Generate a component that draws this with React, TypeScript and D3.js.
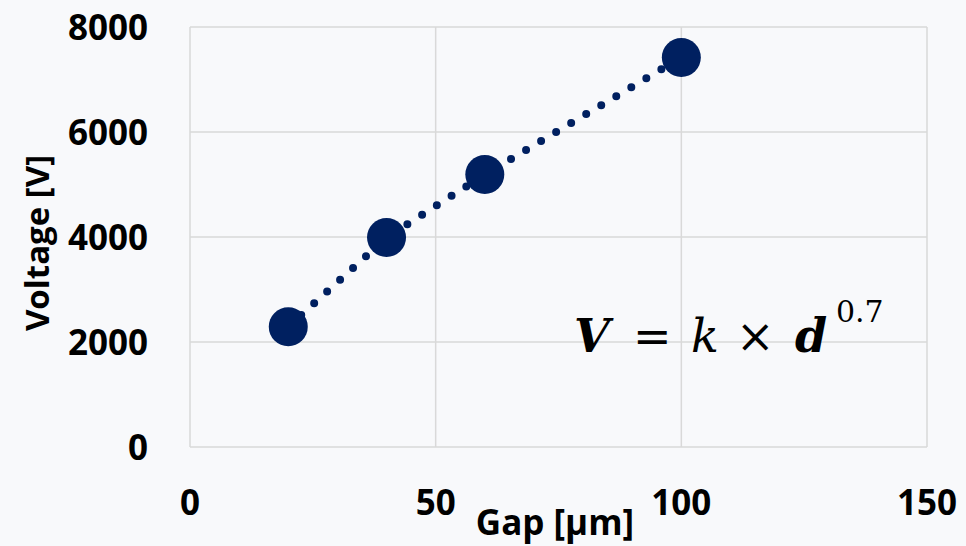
import React, { useEffect, useRef } from 'react';
import * as d3 from 'd3';

const gapValues = [20, 40, 60, 100];
const voltageValues = [2290, 3990, 5190, 7420];
const xTicks = [0, 50, 100, 150];
const yTicks = [0, 2000, 4000, 6000, 8000];

const WIDTH = 966;
const HEIGHT = 546;
const NAVY = '#002060';
const GRID = '#d9d9d9';
const FONT = "'Open Sans', 'Liberation Sans', sans-serif";

export default function App() {
  const svgRef = useRef<SVGSVGElement>(null);

  useEffect(() => {
    if (!svgRef.current) return;
    const svg = d3.select(svgRef.current);
    svg.selectAll('*').remove();

    const margin = { top: 27, right: 39, bottom: 99, left: 190 };
    const innerWidth = WIDTH - margin.left - margin.right;
    const innerHeight = HEIGHT - margin.top - margin.bottom;

    svg.append('rect')
      .attr('width', WIDTH)
      .attr('height', HEIGHT)
      .attr('fill', '#f8f9fb');

    const xScale = d3.scaleLinear().domain([0, 150]).range([0, innerWidth]);
    const yScale = d3.scaleLinear().domain([0, 8000]).range([innerHeight, 0]);

    const g = svg.append('g')
      .attr('transform', `translate(${margin.left},${margin.top})`);

    // gridlines
    g.selectAll('line.hgrid')
      .data(yTicks)
      .enter()
      .append('line')
      .attr('x1', 0)
      .attr('x2', innerWidth)
      .attr('y1', d => yScale(d))
      .attr('y2', d => yScale(d))
      .attr('stroke', GRID)
      .attr('stroke-width', 1.5);

    g.selectAll('line.vgrid')
      .data(xTicks)
      .enter()
      .append('line')
      .attr('x1', d => xScale(d))
      .attr('x2', d => xScale(d))
      .attr('y1', 0)
      .attr('y2', innerHeight)
      .attr('stroke', GRID)
      .attr('stroke-width', 1.5);

    // tick labels
    g.selectAll('text.ytick')
      .data(yTicks)
      .enter()
      .append('text')
      .attr('x', -42)
      .attr('y', d => yScale(d))
      .attr('dy', '0.36em')
      .attr('text-anchor', 'end')
      .attr('font-family', FONT)
      .attr('font-weight', 'bold')
      .style('font-size', '35px')
      .attr('fill', '#000')
      .text(d => String(d));

    g.selectAll('text.xtick')
      .data(xTicks)
      .enter()
      .append('text')
      .attr('x', d => xScale(d))
      .attr('y', innerHeight + 68)
      .attr('text-anchor', 'middle')
      .attr('font-family', FONT)
      .attr('font-weight', 'bold')
      .style('font-size', '35px')
      .attr('fill', '#000')
      .text(d => String(d));

    // axis titles
    svg.append('text')
      .attr('x', 555)
      .attr('y', 535)
      .attr('text-anchor', 'middle')
      .attr('font-family', FONT)
      .attr('font-weight', 'bold')
      .style('font-size', '35px')
      .attr('fill', '#000')
      .text('Gap [μm]');

    svg.append('text')
      .attr('transform', 'translate(49,243) rotate(-90)')
      .attr('text-anchor', 'middle')
      .attr('font-family', FONT)
      .attr('font-weight', 'bold')
      .style('font-size', '33px')
      .attr('fill', '#000')
      .text('Voltage [V]');

    // dotted series line
    const points = gapValues.map((x, i) => [x, voltageValues[i]] as [number, number]);
    const line = d3.line<[number, number]>()
      .x(d => xScale(d[0]))
      .y(d => yScale(d[1]));

    g.append('path')
      .attr('d', line(points))
      .attr('fill', 'none')
      .attr('stroke', NAVY)
      .attr('stroke-width', 8)
      .attr('stroke-linecap', 'round')
      .attr('stroke-dasharray', '0,17.5');

    g.selectAll('circle')
      .data(points)
      .enter()
      .append('circle')
      .attr('cx', d => xScale(d[0]))
      .attr('cy', d => yScale(d[1]))
      .attr('r', 19.5)
      .attr('fill', NAVY);

    // equation
    const eq = svg.append('text')
      .attr('y', 352)
      .attr('font-family', "'DejaVu Serif', 'Liberation Serif', serif")
      .style('font-size', '46px')
      .attr('fill', '#000');

    eq.append('tspan').attr('x', 574).attr('font-weight', 'bold').attr('font-style', 'italic').text('V');
    eq.append('tspan').attr('x', 633).text('=');
    eq.append('tspan').attr('x', 691).attr('font-style', 'italic').text('k');
    eq.append('tspan').attr('x', 736).text('×');
    eq.append('tspan').attr('x', 795).attr('font-weight', 'bold').attr('font-style', 'italic').text('d');
    eq.append('tspan').attr('x', 836).attr('y', 322).style('font-size', '30px').text('0.7');
  }, []);

  return (
    <svg
      ref={svgRef}
      width={WIDTH}
      height={HEIGHT}
      style={{ position: 'absolute', left: 0, top: 0, display: 'block' }}
    />
  );
}
